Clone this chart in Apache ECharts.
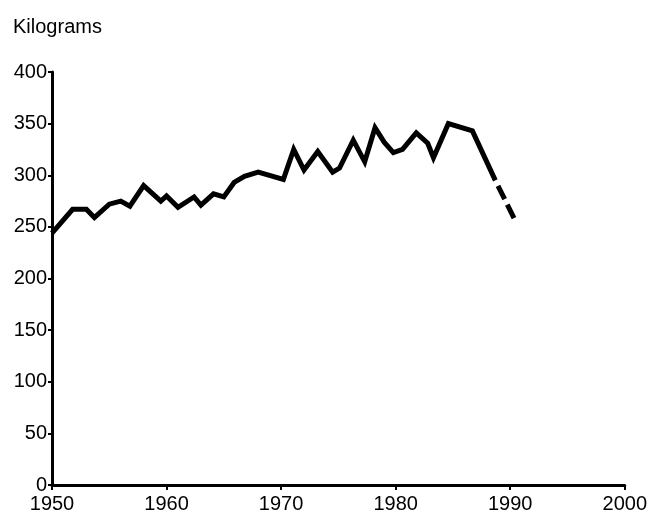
<!DOCTYPE html>
<html>
<head>
    <meta charset="utf-8">
    <title></title>
    <style type="text/css">
        html,
        body {
            height: 100%;
            overflow: hidden;
        }

        body {
            margin: 0;
            padding: 0;
            background: #fff;
        }

        #main {
            width: 650px;
            height: 514px;
        }
    </style>
</head>

<body>
<div id="main"></div>
<script type="text/javascript" src="https://cdn.jsdelivr.net/npm/echarts@6/dist/echarts.min.js"></script>
<script type="text/javascript">
    // years and kilograms
    var years = [1950, 1951.8, 1953, 1953.7, 1955, 1956, 1956.8, 1958, 1959.5, 1960,
        1961, 1962.4, 1963, 1964.1, 1965, 1965.9, 1966.8, 1968, 1970.2, 1971.1,
        1972, 1973.2, 1974.5, 1975.1, 1976.3, 1977.3, 1978.2, 1979, 1979.8, 1980.6,
        1981.8, 1982.8, 1983.3, 1984.6, 1986.7, 1988.7];
    var kilograms = [244, 267, 267, 259, 272, 275, 270, 290, 275, 280,
        269, 279, 271, 282, 279, 293, 299, 303, 296, 325,
        305, 323, 303, 307, 334, 313, 346, 332, 322, 325,
        341, 331, 317, 350, 343, 295];
    // estimate, drawn dashed
    var estYears = [1988.7, 1990.4];
    var estKilograms = [295, 257];

    var xTicks = [1950, 1960, 1970, 1980, 1990, 2000];
    var yTicks = [0, 50, 100, 150, 200, 250, 300, 350, 400];

    function pairs(xs, ys) {
        var res = [];
        for (var i = 0; i < xs.length; i++) {
            res.push([xs[i], ys[i]]);
        }
        return res;
    }

    var myChart;
    window.onload = function () {
        myChart = echarts.init(document.getElementById('main'), null, {width: 650, height: 514});

        var fontFamily = '"Liberation Sans", Arial, sans-serif';

        var option = {
            animation: false,
            backgroundColor: '#fff',
            title: {
                text: 'Kilograms',
                left: 8,
                top: 12,
                textStyle: {
                    fontFamily: fontFamily,
                    fontSize: 20,
                    fontWeight: 'normal',
                    color: '#000'
                }
            },
            grid: {
                left: 52,
                right: 20,
                top: 72,
                bottom: 29,
                containLabel: false
            },
            xAxis: {
                type: 'value',
                min: xTicks[0],
                max: xTicks[xTicks.length - 1],
                interval: 10,
                splitLine: {show: false},
                axisLine: {lineStyle: {color: '#000', width: 3}},
                axisTick: {show: true, length: 5, lineStyle: {color: '#000', width: 2}},
                axisLabel: {
                    color: '#000',
                    fontFamily: fontFamily,
                    fontSize: 20,
                    margin: 9,
                    formatter: function (v) {
                        return String(v);
                    }
                }
            },
            yAxis: {
                type: 'value',
                min: yTicks[0],
                max: yTicks[yTicks.length - 1],
                interval: 50,
                splitLine: {show: false},
                axisLine: {show: true, lineStyle: {color: '#000', width: 3}},
                axisTick: {show: true, length: 4, lineStyle: {color: '#000', width: 2}},
                axisLabel: {
                    color: '#000',
                    fontFamily: fontFamily,
                    fontSize: 20,
                    margin: 5
                }
            },
            series: [
                {
                    type: 'line',
                    data: pairs(years, kilograms),
                    symbol: 'none',
                    lineStyle: {color: '#000', width: 5, join: 'miter'}
                },
                {
                    type: 'line',
                    data: pairs(estYears, estKilograms),
                    symbol: 'none',
                    lineStyle: {color: '#000', width: 5, type: [15, 6], dashOffset: -6}
                }
            ]
        };

        myChart.setOption(option);
    };
</script>
</body>
</html>
